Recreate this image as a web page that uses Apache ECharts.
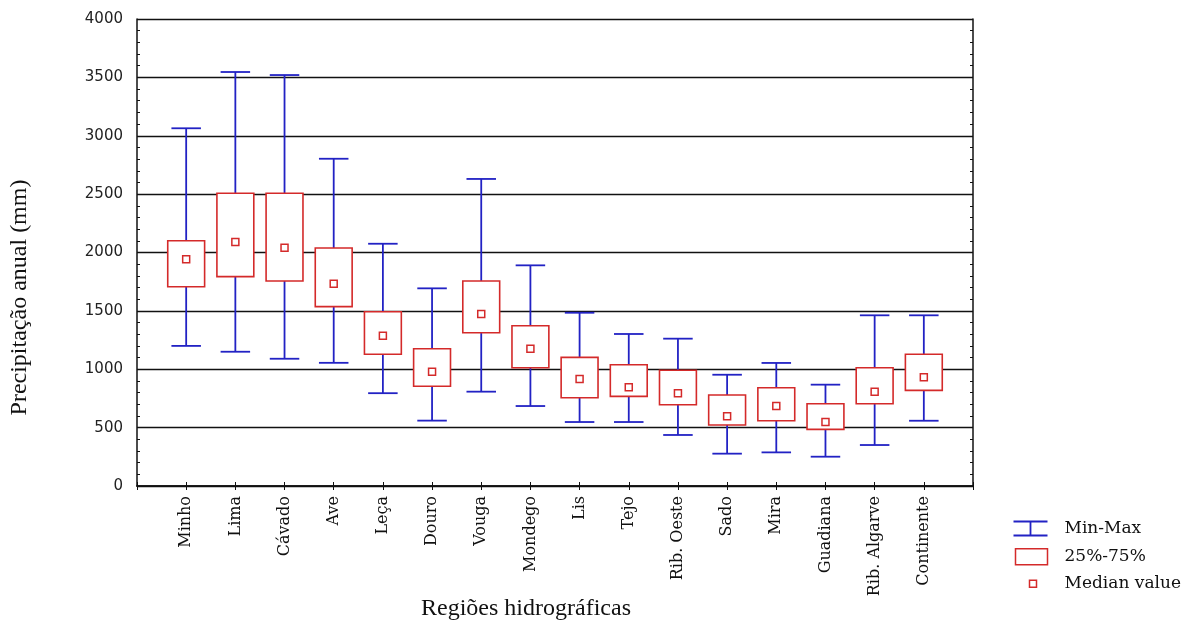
<!DOCTYPE html>
<html>
<head>
<meta charset="utf-8">
<script src="https://cdn.jsdelivr.net/npm/echarts@6/dist/echarts.min.js"></script>
<style>html,body{margin:0;padding:0;background:#fff;overflow:hidden;}#chart{width:1196px;height:624px;}</style>
</head>
<body>
<div id="chart"></div>
<script>
const categories = ['Minho','Lima','Cávado','Ave','Leça','Douro','Vouga','Mondego','Lis','Tejo','Rib. Oeste','Sado','Mira','Guadiana','Rib. Algarve','Continente'];
const minVals    = [1200,1150,1090,1055, 795, 560, 808, 685, 548, 548, 437, 277, 288, 251, 351, 559];
const q1Vals     = [1707,1793,1756,1536,1128, 854,1313,1013, 756, 768, 696, 522, 559, 485, 705, 819];
const medianVals = [1942,2090,2041,1733,1288, 979,1473,1176, 916, 845, 794, 597, 685, 548, 808, 931];
const q3Vals     = [2101,2507,2507,2038,1493,1176,1756,1373,1102,1039, 991, 779, 842, 705,1013,1128];
const maxVals    = [3064,3546,3520,2803,2075,1693,2630,1890,1484,1302,1262, 953,1054, 868,1462,1462];
const yTicks = {min: 0, max: 4000, interval: 500};

const BLUE = '#2222c4';
const RED = '#d42a2a';
const axisCats = [''].concat(categories, ['']);

const whiskerData = categories.map((c, i) => [i + 1, minVals[i], maxVals[i]]);
const boxData = categories.map((c, i) => [i + 1, q1Vals[i], q3Vals[i]]);
const medData = categories.map((c, i) => [i + 1, medianVals[i]]);

const chart = echarts.init(document.getElementById('chart'), null, {renderer: 'canvas', width: 1196, height: 624});

const option = {
  animation: false,
  backgroundColor: '#fff',
  grid: {left: 137, width: 836, top: 19, height: 467, containLabel: false, outerBoundsMode: 'none'},
  legend: {
    orient: 'vertical',
    left: 1011, top: 518, padding: 0,
    itemWidth: 46, itemHeight: 16, itemGap: 9,
    selectedMode: false,
    textStyle: {fontFamily: 'DejaVu Serif', fontSize: 17, color: '#111'},
    data: [
      {name: 'Min-Max', icon: 'path://M0,1 L34,1 M17,1 L17,15 M0,15 L34,15 M46,0 M0,0 M0,16',
       itemStyle: {color: 'none', borderColor: BLUE, borderWidth: 1.8}},
      {name: '25%-75%', icon: 'path://M2,0 L34,0 L34,16 L2,16 Z M46,0 M0,0',
       itemStyle: {color: '#fff', borderColor: RED, borderWidth: 1.5}},
      {name: 'Median value', icon: 'path://M16,5 L23,5 L23,12 L16,12 Z M0,0 M46,16',
       itemStyle: {color: '#fff', borderColor: RED, borderWidth: 1.5}}
    ]
  },
  xAxis: [
    {
      type: 'category', data: axisCats, boundaryGap: false, position: 'bottom',
      name: 'Regiões hidrográficas', nameLocation: 'middle', nameGap: 111, nameMoveOverlap: false,
      nameTextStyle: {fontFamily: 'Liberation Serif', fontSize: 24, color: '#111', padding: [0, 58, 0, 0]},
      axisLine: {show: true, lineStyle: {color: '#111', width: 1.5}},
      axisTick: {show: true, inside: true, length: 4, interval: 0, lineStyle: {color: '#111'}},
      axisLabel: {show: true, interval: 0, rotate: 90, margin: 10, fontFamily: 'DejaVu Serif', fontSize: 16, color: '#111'},
      splitLine: {show: false}
    },
    {
      type: 'category', data: axisCats, boundaryGap: false, position: 'top',
      axisLine: {show: true, lineStyle: {color: '#111', width: 1.5}},
      axisTick: {show: true, inside: true, length: 4, interval: 0, lineStyle: {color: '#111'}},
      axisLabel: {show: false},
      splitLine: {show: false}
    }
  ],
  yAxis: [
    {
      type: 'value', min: yTicks.min, max: yTicks.max, interval: yTicks.interval, position: 'left',
      name: 'Precipitação anual (mm)', nameLocation: 'middle', nameGap: 105, nameRotate: 90, nameMoveOverlap: false,
      nameTextStyle: {fontFamily: 'Liberation Serif', fontSize: 24, color: '#111', padding: [0, 90, 0, 0]},
      axisLine: {show: true, lineStyle: {color: '#111', width: 1.5}},
      axisTick: {show: true, inside: true, length: 4, lineStyle: {color: '#111'}},
      minorTick: {show: true, splitNumber: 5, length: 3, lineStyle: {color: '#111'}},
      axisLabel: {show: true, margin: 14, fontFamily: 'DejaVu Sans', fontSize: 15, color: '#222',
        formatter: function (v) { return String(v); }},
      splitLine: {show: true, lineStyle: {color: '#111', width: 1.3}}
    },
    {
      type: 'value', min: yTicks.min, max: yTicks.max, interval: yTicks.interval, position: 'right',
      axisLine: {show: true, lineStyle: {color: '#111', width: 1.5}},
      axisTick: {show: true, inside: true, length: 4, lineStyle: {color: '#111'}},
      minorTick: {show: true, splitNumber: 5, length: 3, lineStyle: {color: '#111'}},
      axisLabel: {show: false},
      splitLine: {show: false}
    }
  ],
  series: [
    {
      name: 'Min-Max', type: 'custom', xAxisIndex: 0, yAxisIndex: 0,
      encode: {x: 0, y: [1, 2]}, clip: false,
      itemStyle: {color: BLUE},
      data: whiskerData,
      renderItem: function (params, api) {
        const x = api.value(0);
        const lo = api.coord([x, api.value(1)]);
        const hi = api.coord([x, api.value(2)]);
        const hw = api.size([1, 0])[0] * 0.3;
        const st = {stroke: BLUE, lineWidth: 1.8, fill: null};
        return {type: 'group', children: [
          {type: 'line', shape: {x1: lo[0], y1: lo[1], x2: hi[0], y2: hi[1]}, style: st},
          {type: 'line', shape: {x1: lo[0] - hw, y1: lo[1], x2: lo[0] + hw, y2: lo[1]}, style: st},
          {type: 'line', shape: {x1: hi[0] - hw, y1: hi[1], x2: hi[0] + hw, y2: hi[1]}, style: st}
        ]};
      }
    },
    {
      name: '25%-75%', type: 'custom', xAxisIndex: 0, yAxisIndex: 0,
      encode: {x: 0, y: [1, 2]}, clip: false,
      itemStyle: {color: RED},
      data: boxData,
      renderItem: function (params, api) {
        const x = api.value(0);
        const lo = api.coord([x, api.value(1)]);
        const hi = api.coord([x, api.value(2)]);
        const bw = api.size([1, 0])[0] * 0.75;
        return {type: 'rect', shape: {x: lo[0] - bw / 2, y: hi[1], width: bw, height: lo[1] - hi[1]},
          style: {fill: '#fff', stroke: RED, lineWidth: 1.6}};
      }
    },
    {
      name: 'Median value', type: 'custom', xAxisIndex: 0, yAxisIndex: 0,
      encode: {x: 0, y: 1}, clip: false,
      itemStyle: {color: RED},
      data: medData,
      renderItem: function (params, api) {
        const p = api.coord([api.value(0), api.value(1)]);
        const s = 7;
        return {type: 'rect', shape: {x: p[0] - s / 2, y: p[1] - s / 2, width: s, height: s},
          style: {fill: '#fff', stroke: RED, lineWidth: 1.5}};
      }
    }
  ]
};
chart.setOption(option);
</script>
</body>
</html>
